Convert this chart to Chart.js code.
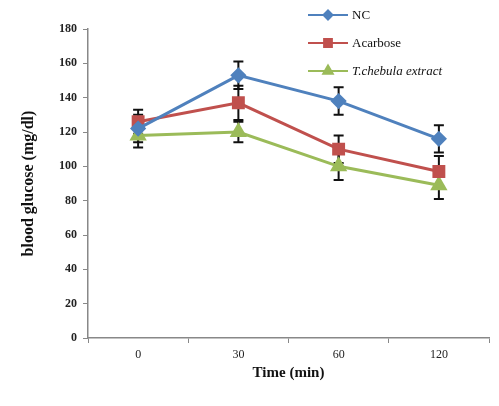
<!DOCTYPE html>
<html>
<head>
<meta charset="utf-8">
<script src="https://cdn.jsdelivr.net/npm/chart.js@4"></script>
<style>
  html, body { margin: 0; padding: 0; background: #fff; }
  #wrap { width: 499px; height: 406px; position: relative; }
</style>
</head>
<body>
<div id="wrap"><canvas id="myChart"></canvas></div>
<script>
const times = ['0', '30', '60', '120'];
const ncValues = [122, 153, 138, 116];
const ncErrors = [8, 8, 8, 8];
const acarboseValues = [126, 137, 110, 97];
const acarboseErrors = [7, 10, 8, 9];
const chebulaValues = [118, 120, 100, 89];
const chebulaErrors = [7, 6, 8, 8];
const seriesNames = ['NC', 'Acarbose', 'T.chebula extract'];

const errorBars = {
  id: 'errorBars',
  beforeDatasetsDraw(chart) {
    const ctx = chart.ctx;
    const y = chart.scales.y;
    ctx.save();
    ctx.strokeStyle = '#111';
    ctx.lineWidth = 2;
    chart.data.datasets.forEach((ds, i) => {
      const meta = chart.getDatasetMeta(i);
      meta.data.forEach((pt, j) => {
        const v = ds.data[j], e = ds.errors[j];
        const top = y.getPixelForValue(v + e);
        const bot = y.getPixelForValue(v - e);
        ctx.beginPath();
        ctx.moveTo(pt.x, top); ctx.lineTo(pt.x, bot);
        ctx.moveTo(pt.x - 5, top); ctx.lineTo(pt.x + 5, top);
        ctx.moveTo(pt.x - 5, bot); ctx.lineTo(pt.x + 5, bot);
        ctx.stroke();
      });
    });
    ctx.restore();
  }
};

const sideLegend = {
  id: 'sideLegend',
  afterDraw(chart) {
    const ctx = chart.ctx;
    ctx.save();
    chart.data.datasets.forEach((ds, i) => {
      const yy = 15 + i * 28;
      ctx.strokeStyle = ds.borderColor;
      ctx.lineWidth = 2;
      ctx.beginPath();
      ctx.moveTo(308, yy); ctx.lineTo(348, yy);
      ctx.stroke();
      Chart.helpers.drawPoint(ctx, {
        pointStyle: ds.pointStyle, radius: ds.pointRadius - 1.5, borderWidth: 1
      }, 328, yy);
      ctx.fillStyle = ds.backgroundColor;
      ctx.fill();
      ctx.fillStyle = '#111';
      ctx.font = (i === 2 ? 'italic ' : '') + '13px "Liberation Serif"';
      ctx.textBaseline = 'middle';
      ctx.fillText(ds.label, 352, yy + 1);
    });
    ctx.restore();
  }
};

new Chart(document.getElementById('myChart'), {
  type: 'line',
  data: {
    labels: times,
    datasets: [
      {
        label: seriesNames[0], data: ncValues, errors: ncErrors,
        borderColor: '#4F81BD', backgroundColor: '#4F81BD',
        borderWidth: 3, pointStyle: 'rectRot', pointRadius: 6
      },
      {
        label: seriesNames[1], data: acarboseValues, errors: acarboseErrors,
        borderColor: '#C0504D', backgroundColor: '#C0504D',
        borderWidth: 3, pointStyle: 'rect', pointRadius: 7
      },
      {
        label: seriesNames[2], data: chebulaValues, errors: chebulaErrors,
        borderColor: '#9BBB59', backgroundColor: '#9BBB59',
        borderWidth: 3, pointStyle: 'triangle', pointRadius: 7
      }
    ]
  },
  options: {
    responsive: true,
    maintainAspectRatio: false,
    animation: false,
    layout: { padding: { top: 29, right: 9, left: 15, bottom: 20 } },
    plugins: {
      legend: { display: false },
      tooltip: { enabled: false }
    },
    scales: {
      x: {
        offset: true,
        grid: { offset: true, drawOnChartArea: false, tickLength: 5, color: '#888' },
        border: { color: '#888', width: 1.5 },
        ticks: { color: '#222', font: { family: 'Liberation Serif', size: 12 }, padding: 5 },
        title: {
          display: true, text: 'Time (min)', color: '#111',
          font: { family: 'Liberation Serif', size: 15, weight: 'bold' }, padding: { top: 2 }
        },
        afterFit(s) { s.height = 48; }
      },
      y: {
        min: 0, max: 180,
        ticks: { stepSize: 20, color: '#222', font: { family: 'Liberation Serif', size: 12, weight: 'bold' }, padding: 6 },
        grid: { drawOnChartArea: false, tickLength: 5, color: '#888' },
        border: { color: '#888', width: 1.5 },
        title: {
          display: true, text: 'blood glucose (mg/dl)', color: '#111',
          font: { family: 'Liberation Serif', size: 16, weight: 'bold' }, padding: { bottom: 4 }
        },
        afterFit(s) { s.width = 73; }
      }
    }
  },
  plugins: [errorBars, sideLegend]
});
</script>
</body>
</html>
